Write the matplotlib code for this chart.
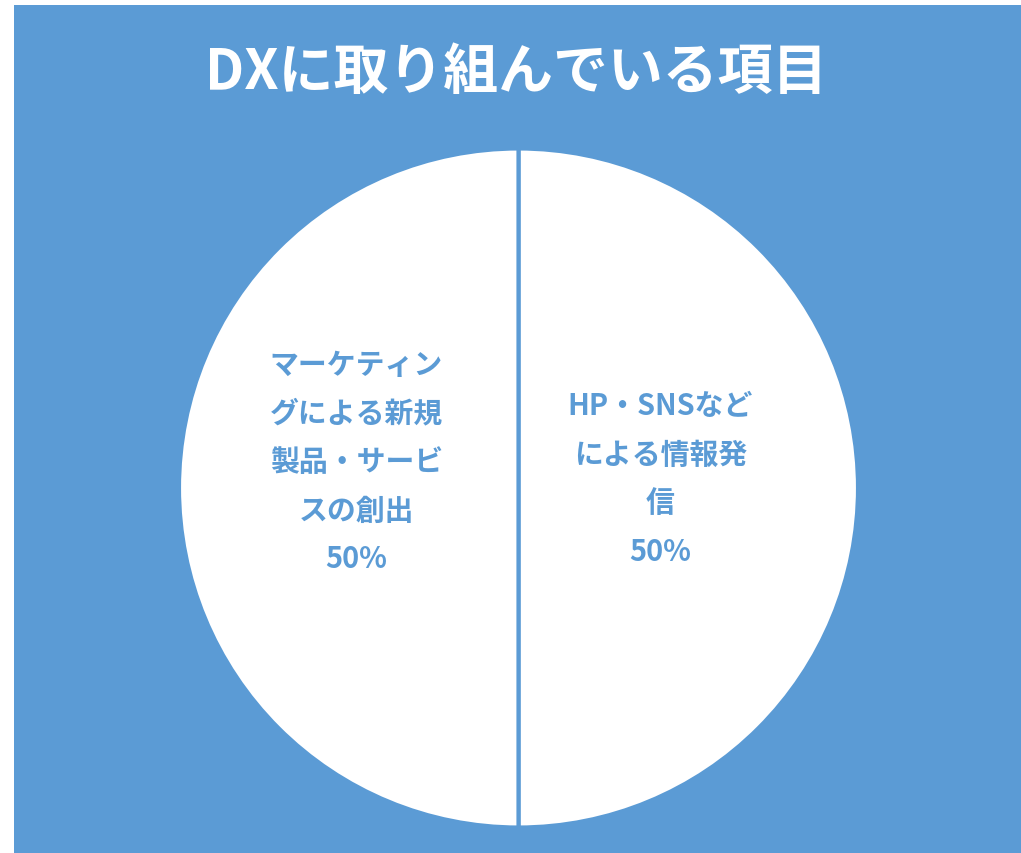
import matplotlib
matplotlib.use("Agg")
import matplotlib.pyplot as plt
from matplotlib.patches import Rectangle
import numpy as np

plt.rcParams['font.family'] = ['Noto Sans CJK JP', 'DejaVu Sans']

title = "DXに取り組んでいる項目"
categories = ["HP・SNSなど\nによる情報発\n信", "マーケティン\nグによる新規\n製品・サービ\nスの創出"]
values = [50, 50]

BLUE = "#5B9BD5"
W, H = 1021, 854
fig = plt.figure(figsize=(W / 100, H / 100), dpi=100)
fig.patch.set_facecolor("white")
bg = Rectangle((14 / W, 0), 1 - 14 / W, 1 - 6 / H, transform=fig.transFigure,
               facecolor=BLUE, edgecolor="none", zorder=-10)
fig.patches.append(bg)

ax = fig.add_axes([0, 0, 1, 1], zorder=2)
ax.set_facecolor("none")
ax.patch.set_alpha(0)

wedges, _ = ax.pie(values, startangle=90, counterclock=False, radius=1.006,
                   colors=["white"] * len(values),
                   wedgeprops=dict(edgecolor=BLUE, linewidth=3))

cx, cy, R = 518.5, H - 489, 337.5
ax.set_aspect("auto")
ax.set_xlim(-cx / R, (W - cx) / R)
ax.set_ylim(-cy / R, (H - cy) / R)
ax.axis("off")

total = sum(values)
offsets = [(0.42, 0.03), (0.48, 0.08)]
for w, cat, v, (r, dy) in zip(wedges, categories, values, offsets):
    ang = np.deg2rad((w.theta1 + w.theta2) / 2)
    x = r * np.cos(ang)
    y = r * np.sin(ang) + dy
    ax.text(x, y, f"{cat}\n{v / total * 100:.0f}%", ha="center", va="center",
            fontsize=20.8, fontweight="bold", color=BLUE, linespacing=1.77)

fig.text(0.506, 1 - 72 / H, title, ha="center", va="center", fontsize=39.5,
         fontweight="bold", color="white", zorder=5)

fig.savefig("out.png", dpi=100)
